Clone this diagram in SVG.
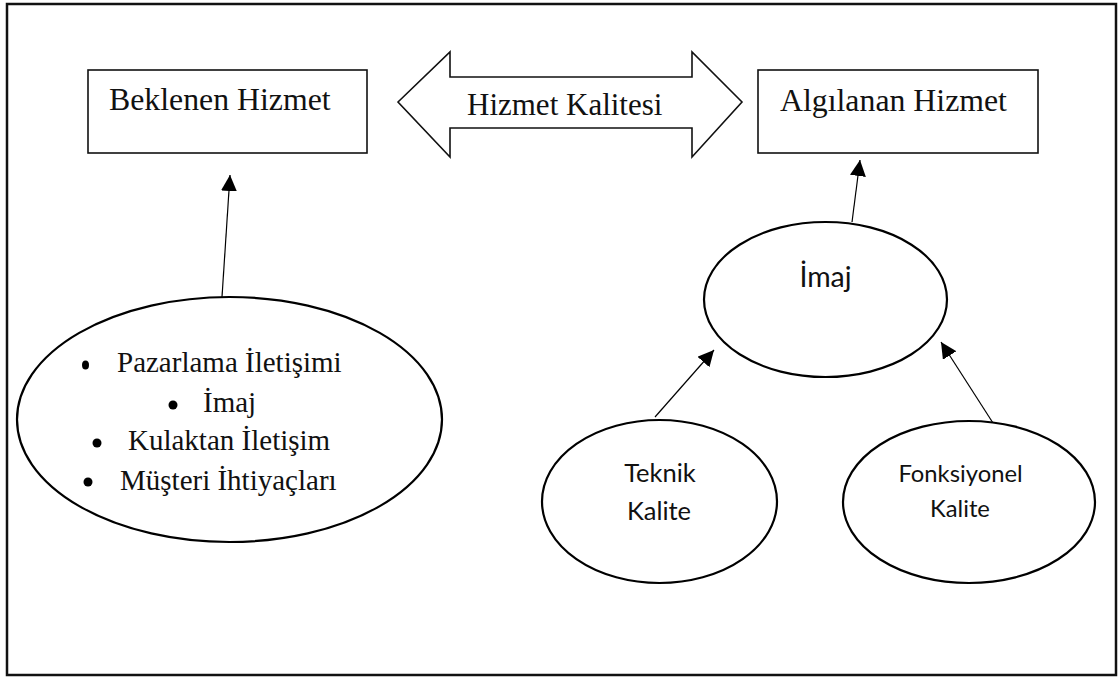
<svg xmlns="http://www.w3.org/2000/svg" width="1119" height="677" viewBox="0 0 1119 677">
  <defs>
    <marker id="head" viewBox="0 0 16 16" refX="16" refY="8" markerWidth="16" markerHeight="16" markerUnits="userSpaceOnUse" orient="auto">
      <path d="M0,0 L16,8 L0,16 Z" fill="#000"/>
    </marker>
    <style>
      .frame { fill: #fff; stroke: #111; stroke-width: 2.5; }
      .box { fill: #fff; stroke: #111; stroke-width: 1.6; }
      .oval { fill: #fff; stroke: #000; stroke-width: 2.2; }
      .serif { font-family: "Liberation Serif", "Times New Roman", serif; fill: #111; }
      .sans { font-family: Lato, "Open Sans", sans-serif; fill: #111; }
      .link { stroke: #000; stroke-width: 1.2; fill: none; marker-end: url(#head); }
      .dot { fill: #000; }
    </style>
  </defs>

  <!-- outer frame -->
  <rect class="frame" x="7" y="4" width="1109" height="671"/>

  <!-- connectors -->
  <g id="connectors">
    <line class="link" x1="222" y1="297" x2="230" y2="175"/>
    <line class="link" x1="852" y1="222" x2="860" y2="160"/>
    <line class="link" x1="655" y1="417" x2="714" y2="350"/>
    <line class="link" x1="993" y1="423" x2="941" y2="342"/>
  </g>

  <g id="beklenen-hizmet">
    <rect class="box" x="88" y="70" width="279" height="83"/>
    <text class="serif" x="109" y="110" font-size="31.8">Beklenen Hizmet</text>
  </g>

  <g id="hizmet-kalitesi">
    <polygon class="box" points="398,102 450,52 450,77 692,77 692,52 742,102 692,157 692,128 450,128 450,157"/>
    <text class="serif" x="467" y="115" font-size="31">Hizmet Kalitesi</text>
  </g>

  <g id="algilanan-hizmet">
    <rect class="box" x="758" y="70" width="280" height="83"/>
    <text class="serif" x="780" y="111" font-size="31.8">Algılanan Hizmet</text>
  </g>

  <g id="beklenen-etkenler">
    <ellipse class="oval" cx="229.5" cy="419.5" rx="212.5" ry="122.5"/>
    <ellipse class="dot" cx="85.5" cy="365" rx="3.5" ry="4.5"/>
    <text class="serif" x="117" y="372" font-size="29">Pazarlama İletişimi</text>
    <circle class="dot" cx="173" cy="405" r="4.5"/>
    <text class="serif" x="203" y="412" font-size="29">İmaj</text>
    <circle class="dot" cx="97" cy="443" r="4.5"/>
    <text class="serif" x="128" y="450" font-size="29">Kulaktan İletişim</text>
    <circle class="dot" cx="88" cy="482" r="4.5"/>
    <text class="serif" x="120" y="490" font-size="29">Müşteri İhtiyaçları</text>
  </g>

  <g id="imaj">
    <ellipse class="oval" cx="825.5" cy="299.5" rx="121.5" ry="77.5"/>
    <text class="sans" x="825.5" y="287" font-size="28.5" text-anchor="middle">İmaj</text>
  </g>

  <g id="teknik-kalite">
    <ellipse class="oval" cx="659.5" cy="501.5" rx="117.5" ry="81.5"/>
    <text class="sans" x="660" y="482" font-size="25.5" text-anchor="middle">Teknik</text>
    <text class="sans" x="659" y="520" font-size="25.5" text-anchor="middle">Kalite</text>
  </g>

  <g id="fonksiyonel-kalite">
    <ellipse class="oval" cx="969" cy="502" rx="126" ry="81"/>
    <text class="sans" x="960.5" y="482" font-size="23.8" text-anchor="middle">Fonksiyonel</text>
    <text class="sans" x="960" y="517" font-size="23.8" text-anchor="middle">Kalite</text>
  </g>
</svg>
